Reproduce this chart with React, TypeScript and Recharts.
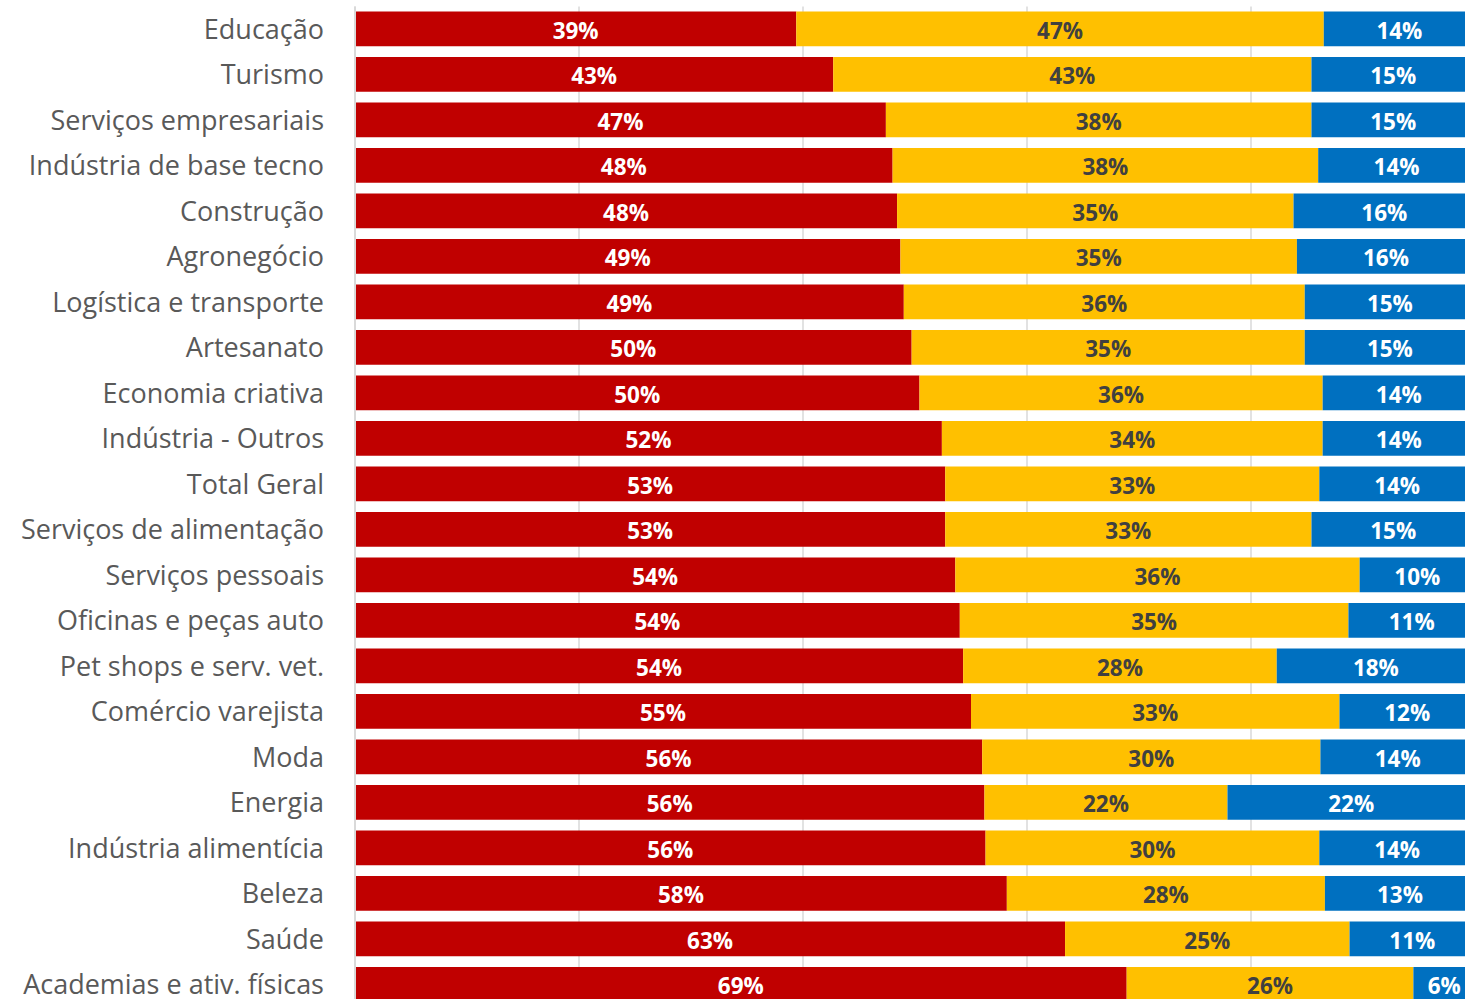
import { BarChart, Bar, XAxis, YAxis, CartesianGrid, LabelList } from "recharts";

const categories = [
  "Educação",
  "Turismo",
  "Serviços empresariais",
  "Indústria de base tecno",
  "Construção",
  "Agronegócio",
  "Logística e transporte",
  "Artesanato",
  "Economia criativa",
  "Indústria - Outros",
  "Total Geral",
  "Serviços de alimentação",
  "Serviços pessoais",
  "Oficinas e peças auto",
  "Pet shops e serv. vet.",
  "Comércio varejista",
  "Moda",
  "Energia",
  "Indústria alimentícia",
  "Beleza",
  "Saúde",
  "Academias e ativ. físicas",
];

const redValues = [
  39.4, 42.7, 47.4, 48.0, 48.4, 48.7, 49.0, 49.7, 50.4, 52.4, 52.7, 52.7, 53.6,
  54.0, 54.3, 55.0, 56.0, 56.2, 56.3, 58.2, 63.4, 68.9,
];
const yellowValues = [
  47.1, 42.7, 38.0, 38.0, 35.4, 35.4, 35.8, 35.1, 36.0, 34.0, 33.4, 32.7, 36.1,
  34.7, 28.0, 32.9, 30.2, 21.7, 29.8, 28.4, 25.4, 25.6,
];
const blueValues = [
  13.5, 14.6, 14.6, 14.0, 16.2, 15.9, 15.2, 15.2, 13.6, 13.6, 13.9, 14.6, 10.3,
  11.3, 17.7, 12.1, 13.8, 22.1, 13.9, 13.4, 11.2, 5.5,
];

const xTicks = [0, 20, 40, 60, 80, 100];

const data = categories.map((name, i) => ({
  name,
  red: redValues[i],
  yellow: yellowValues[i],
  blue: blueValues[i],
}));

const fmt = (v: any) => `${Math.round(Number(v))}%`;

const labelProps = { position: "center" as const, formatter: fmt, fontSize: 22.5, fontWeight: 700, dy: 2 };

export default function App() {
  return (
    <div
      style={{
        position: "absolute",
        top: 0,
        left: 0,
        width: 1465,
        height: 999,
        overflow: "hidden",
        background: "#fff",
        fontFamily: "'Open Sans', sans-serif",
      }}
    >
      <BarChart
        width={1480}
        height={1012.6}
        data={data}
        layout="vertical"
        margin={{ top: 6.6, right: 5, bottom: 5, left: 0 }}
        barSize={34.7}
      >
        <CartesianGrid horizontal={false} stroke="#d9d9d9" strokeWidth={1.5} />
        <XAxis type="number" domain={[0, 100]} ticks={xTicks} hide />
        <YAxis
          type="category"
          dataKey="name"
          width={355}
          interval={0}
          tickLine={false}
          tickSize={0}
          tickMargin={31}
          axisLine={{ stroke: "#d9d9d9", strokeWidth: 2 }}
          tick={{ fill: "#595959", fontSize: 27 }}
        />
        <Bar dataKey="red" stackId="a" fill="#C00000" isAnimationActive={false}>
          <LabelList dataKey="red" {...labelProps} fill="#ffffff" />
        </Bar>
        <Bar dataKey="yellow" stackId="a" fill="#FFC000" isAnimationActive={false}>
          <LabelList dataKey="yellow" {...labelProps} fill="#404040" />
        </Bar>
        <Bar dataKey="blue" stackId="a" fill="#0070C0" isAnimationActive={false}>
          <LabelList dataKey="blue" {...labelProps} fill="#ffffff" />
        </Bar>
      </BarChart>
    </div>
  );
}
